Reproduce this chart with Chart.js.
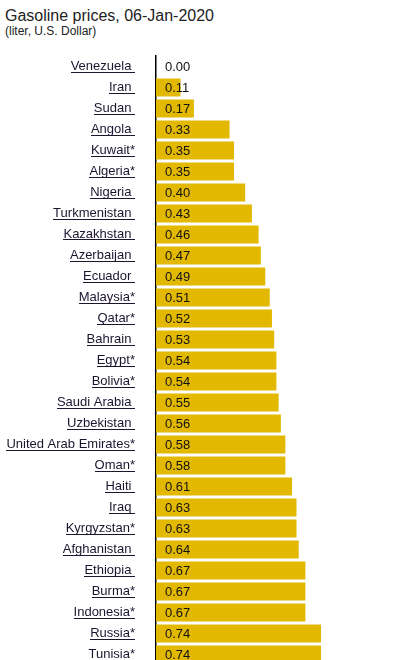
<!DOCTYPE html>
<html lang="en">
<head>
    <meta charset="UTF-8">
    <title>Gasoline prices, 06-Jan-2020</title>
    <script src="https://cdnjs.cloudflare.com/ajax/libs/Chart.js/4.4.0/chart.umd.min.js"></script>
    <style>
        body { margin: 0; background: #fff; overflow: hidden; font-family: "Liberation Sans", Arial, sans-serif; }
        #title { position: absolute; left: 5px; top: 8px; font-size: 16px; line-height: 16px; color: #222; white-space: nowrap; }
        #subtitle { position: absolute; left: 5px; top: 25px; font-size: 12px; line-height: 12px; color: #222; white-space: nowrap; }
        #chart { position: absolute; left: 0; top: 0; }
    </style>
</head>
<body>
    <div id="title">Gasoline prices, 06-Jan-2020</div>
    <div id="subtitle">(liter, U.S. Dollar)</div>
    <canvas id="chart" width="396" height="680"></canvas>

    <script>
        // countries (asterisk kept as in source)
        const countries = [
            'Venezuela', 'Iran', 'Sudan', 'Angola', 'Kuwait*', 'Algeria*', 'Nigeria',
            'Turkmenistan', 'Kazakhstan', 'Azerbaijan', 'Ecuador', 'Malaysia*', 'Qatar*',
            'Bahrain', 'Egypt*', 'Bolivia*', 'Saudi Arabia', 'Uzbekistan',
            'United Arab Emirates*', 'Oman*', 'Haiti', 'Iraq', 'Kyrgyzstan*', 'Afghanistan',
            'Ethiopia', 'Burma*', 'Indonesia*', 'Russia*', 'Tunisia*'
        ];
        const prices = [
            0.00, 0.11, 0.17, 0.33, 0.35, 0.35, 0.40,
            0.43, 0.46, 0.47, 0.49, 0.51, 0.52,
            0.53, 0.54, 0.54, 0.55, 0.56,
            0.58, 0.58, 0.61, 0.63, 0.63, 0.64,
            0.67, 0.67, 0.67, 0.74, 0.74
        ];

        const labelFont = '13px "Liberation Sans", Arial, sans-serif';
        const labelColor = '#1d1530';
        const labelPad = 21;

        function labelText(name) {
            return name.endsWith('*') ? name : name + ' ';
        }

        // underline the country names and write the values inside the bars
        const extras = {
            id: 'extras',
            afterDraw(chart) {
                const ctx = chart.ctx;
                const yScale = chart.scales.y;
                const meta = chart.getDatasetMeta(0);
                ctx.save();
                ctx.font = labelFont;
                ctx.fillStyle = labelColor;
                const right = yScale.right - labelPad;
                countries.forEach((c, i) => {
                    const y = yScale.getPixelForTick(i);
                    const w = ctx.measureText(labelText(c)).width;
                    ctx.fillRect(Math.round(right - w), Math.round(y + 5), Math.round(w), 1);
                });
                ctx.fillStyle = '#111';
                ctx.textBaseline = 'middle';
                ctx.textAlign = 'left';
                meta.data.forEach((bar, i) => {
                    ctx.fillText(prices[i].toFixed(2), chart.chartArea.left + 9, bar.y + 1);
                });
                ctx.restore();
            }
        };

        new Chart(document.getElementById('chart'), {
            type: 'bar',
            data: {
                labels: countries,
                datasets: [{
                    data: prices,
                    backgroundColor: '#e2b900',
                    borderWidth: 0,
                    barPercentage: 0.857,
                    categoryPercentage: 1
                }]
            },
            options: {
                indexAxis: 'y',
                responsive: false,
                animation: false,
                layout: { padding: { top: 56, bottom: 15, left: 0, right: 17 } },
                plugins: {
                    legend: { display: false },
                    tooltip: { enabled: false }
                },
                scales: {
                    x: {
                        display: false,
                        min: 0,
                        max: 1
                    },
                    y: {
                        afterFit(scale) {
                            scale.width = 156;
                            scale.paddingTop = 0;
                            scale.paddingBottom = 0;
                        },
                        grid: { display: false, drawTicks: false },
                        border: { display: true, color: '#000', width: 1.5 },
                        ticks: {
                            padding: labelPad,
                            autoSkip: false,
                            color: labelColor,
                            font: { family: '"Liberation Sans", Arial, sans-serif', size: 13 },
                            callback: function (v, i) { return labelText(countries[i]); }
                        }
                    }
                }
            },
            plugins: [extras]
        });
    </script>
</body>
</html>
